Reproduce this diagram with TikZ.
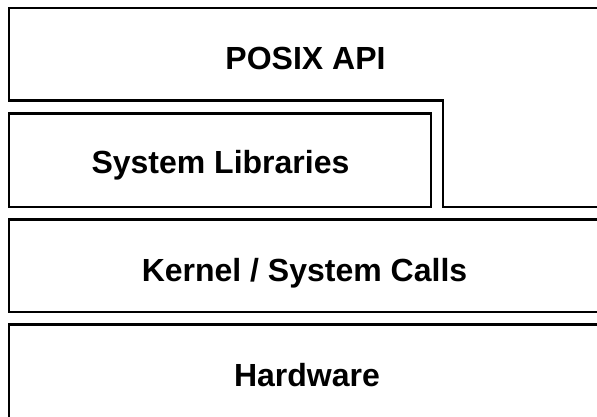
\documentclass[tikz,border=0pt]{standalone}
\usepackage{fontspec}
\setmainfont{Liberation Sans}
\begin{document}
\begin{tikzpicture}[x=1pt,y=-1pt,
  layer/.style={draw=black, line width=2.4pt, line join=miter, fill=white},
  lbl/.style={font=\fontsize{32}{36}\selectfont\bfseries, inner sep=0pt, anchor=base}]
\useasboundingbox (0,0) rectangle (597,416);
\clip (0,0) rectangle (597,416);
% POSIX API (stepped shape)
\draw[layer] (9,8) -- (610,8) -- (610,206.7) -- (442.7,206.7) -- (442.7,100.5) -- (9,100.5) -- cycle;
% System Libraries
\draw[layer] (9,113.3) rectangle (431,206.7);
% Kernel / System Calls
\draw[layer] (9,219.3) rectangle (610,311.7);
% Hardware
\draw[layer] (9,324.3) rectangle (610,430);
\node[lbl] (posix) at (305.5,69) {POSIX API};
\node[lbl] (syslib) at (220.5,173.3) {System Libraries};
\node[lbl] (kernel) at (304.5,281.7) {Kernel / System Calls};
\node[lbl] (hw) at (307,386) {Hardware};
\end{tikzpicture}
\end{document}
